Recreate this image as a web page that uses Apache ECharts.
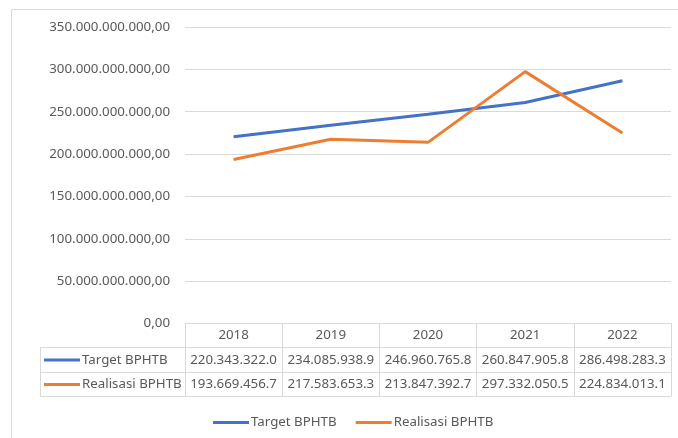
<!DOCTYPE html>
<html>
<head>
<meta charset="utf-8">
<script src="https://cdn.jsdelivr.net/npm/echarts@6/dist/echarts.min.js"></script>
<style>
html,body{margin:0;padding:0;background:#fff;}
#c{width:678px;height:438px;}
</style>
</head>
<body>
<div id="c"></div>
<script>
// ---- data ----
var years = ['2018', '2019', '2020', '2021', '2022'];
var targetName = 'Target BPHTB';
var realisasiName = 'Realisasi BPHTB';
var target = [220343322000, 234085938900, 246960765800, 260847905800, 286498283300];
var realisasi = [193669456700, 217583653300, 213847392700, 297332050500, 224834013100];
var yMin = 0, yMax = 350000000000, yStep = 50000000000;

// ---- styles ----
var FONT = 'Noto Sans';
var FS = 13.3;
var TXT = '#595959';
var GRID = '#D9D9D9';
var BLUE = '#4472C4';
var ORANGE = '#ED7D31';

function groupDots(n) {
  var s = Math.round(n).toString();
  return s.replace(/\B(?=(\d{3})+(?!\d))/g, '.');
}
function yFmt(v) { return groupDots(v) + ',00'; }
function cellFmt(v) { return groupDots(v).slice(0, 13); }

var chart = echarts.init(document.getElementById('c'), null, {renderer: 'canvas'});

var gridLeft = 185, gridRight = 7, gridTop = 27, gridBottom = 114.5;

chart.setOption({
  animation: false,
  backgroundColor: '#fff',
  textStyle: {fontFamily: FONT},
  grid: {left: gridLeft, right: gridRight, top: gridTop, bottom: gridBottom, containLabel: false},
  xAxis: {
    type: 'category',
    data: years,
    boundaryGap: true,
    axisLine: {show: true, lineStyle: {color: GRID, width: 1}},
    axisTick: {show: true, interval: 0, alignWithLabel: false, length: 73, lineStyle: {color: GRID, width: 1}},
    axisLabel: {color: TXT, fontFamily: FONT, fontSize: FS, margin: 5, lineHeight: 14, interval: 0}
  },
  yAxis: {
    type: 'value',
    min: yMin, max: yMax, interval: yStep,
    axisLine: {show: false},
    axisTick: {show: false},
    axisLabel: {color: TXT, fontFamily: FONT, fontSize: FS, margin: 15, formatter: yFmt},
    splitLine: {lineStyle: {color: GRID, width: 1}}
  },
  legend: {
    left: 208, top: 411,
    icon: 'rect', itemWidth: 36, itemHeight: 3, itemGap: 19,
    textStyle: {color: TXT, fontFamily: FONT, fontSize: FS, padding: [0, 0, 0, -3]},
    data: [targetName, realisasiName]
  },
  series: [
    {name: targetName, type: 'line', data: target, symbol: 'none', color: BLUE,
     lineStyle: {width: 3, color: BLUE}},
    {name: realisasiName, type: 'line', data: realisasi, symbol: 'none', color: ORANGE,
     lineStyle: {width: 3, color: ORANGE}}
  ]
});

// ---- data table below the plot ----
function buildTable() {
  var c0 = chart.convertToPixel({xAxisIndex: 0}, 0);
  var c1 = chart.convertToPixel({xAxisIndex: 0}, 1);
  var band = c1 - c0;
  var xEnd = chart.convertToPixel({xAxisIndex: 0}, years.length - 1) + band / 2;
  var yTop = chart.convertToPixel({yAxisIndex: 0}, 0);
  var rowH = 24.5;
  var headBottom = yTop + 23.8;
  var labelLeft = 40.5;
  var rows = [
    {name: targetName, vals: target, color: BLUE},
    {name: realisasiName, vals: realisasi, color: ORANGE}
  ];
  var els = [];
  // outer frame of chart area
  els.push({type: 'rect', shape: {x: 11.5, y: 9.5, width: 720, height: 500},
            style: {fill: null, stroke: GRID, lineWidth: 1}, z: 0, silent: true});
  // horizontal table lines
  for (var r = 0; r <= rows.length; r++) {
    var yy = Math.round(headBottom + r * rowH) + 0.5;
    els.push({type: 'line', shape: {x1: labelLeft, y1: yy, x2: xEnd, y2: yy},
              style: {stroke: GRID, lineWidth: 1}, z: 1, silent: true});
  }
  var yb = Math.round(headBottom + rows.length * rowH) + 0.5;
  els.push({type: 'line', shape: {x1: labelLeft, y1: Math.round(headBottom) + 0.5, x2: labelLeft, y2: yb},
            style: {stroke: GRID, lineWidth: 1}, z: 1, silent: true});
  rows.forEach(function (row, i) {
    var cy = headBottom + i * rowH + rowH / 2 + 0.5;
    els.push({type: 'line', shape: {x1: 44, y1: cy, x2: 80, y2: cy},
              style: {stroke: row.color, lineWidth: 3}, z: 2, silent: true});
    els.push({type: 'text', x: 82, y: cy,
              style: {text: row.name, fill: TXT, font: FS + 'px "' + FONT + '"',
                      textAlign: 'left', textVerticalAlign: 'middle'}, z: 2, silent: true});
    row.vals.forEach(function (v, j) {
      var cx = chart.convertToPixel({xAxisIndex: 0}, j);
      els.push({type: 'text', x: cx, y: cy,
                style: {text: cellFmt(v), fill: TXT, font: FS + 'px "' + FONT + '"',
                        textAlign: 'center', textVerticalAlign: 'middle'}, z: 2, silent: true});
    });
  });
  chart.setOption({graphic: {elements: els}});
}
buildTable();
</script>
</body>
</html>
